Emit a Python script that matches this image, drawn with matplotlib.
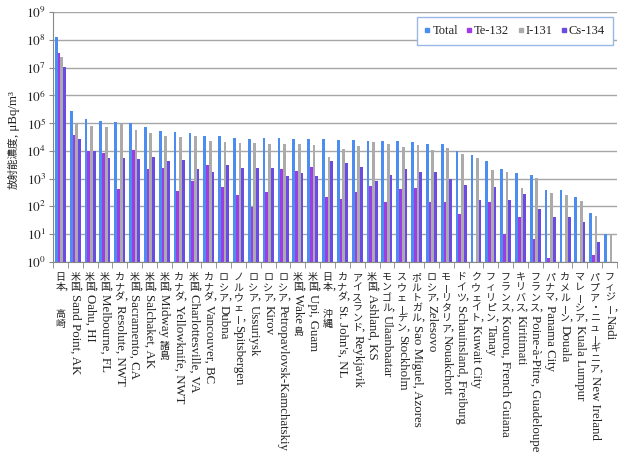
import matplotlib
matplotlib.use("Agg")
import matplotlib.pyplot as plt
import numpy as np
from matplotlib.transforms import IdentityTransform
from matplotlib.lines import Line2D
from matplotlib.ticker import NullLocator

plt.rcParams['mathtext.fontset'] = 'stix'

# ---------------- data ----------------
labels = ["日本，高崎", "米国，Sand Point, AK", "米国，Oahu, HI", "米国，Melbourne, FL",
          "カナダ，Resolute, NWT", "米国，Sacramento, CA", "米国，Salchaket, AK",
          "米国，Midway 諸島", "カナダ，Yellowknife, NWT", "米国，Charlottesville, VA",
          "カナダ，Vancouver, BC", "ロシア，Dubna", "ノルウェー，Spitsbergen",
          "ロシア，Ussuriysk", "ロシア，Kirov", "ロシア，Petropavlovsk-Kamchatskiy",
          "米国，Wake 島", "米国，Upi, Guam", "日本，沖縄", "カナダ，St. John's, NL",
          "アイスランド，Reykjavik", "米国，Ashland, KS", "モンゴル，Ulaanbaatar",
          "スウェーデン，Stockholm", "ポルトガル，Sao Miguel, Azores", "ロシア，Zelesovo",
          "モーリタリア，Nouakchott", "ドイツ，Schauinsland, Freiburg",
          "クウェイト，Kuwait City", "フィリピン，Tanay", "フランス，Kourou, French Guiana",
          "キリバス，Kiritimati", "フランス，Poine-à-Pitre, Guadeloupe", "パナマ，Panama City",
          "カメルーン，Douala", "マレーシア，Kuala Lumpur", "パプア・ニューギニア，New Ireland",
          "フィジー，Nadi"]

nan = np.nan
total = [1.3e8, 2.7e5, 1.4e5, 1.2e5, 1.1e5, 9.8e4, 7.4e4, 5.2e4, 4.8e4, 4.5e4,
         3.4e4, 3.4e4, 3.0e4, 2.7e4, 2.8e4, 2.8e4, 2.6e4, 2.6e4, 2.6e4, 2.4e4,
         2.4e4, 2.3e4, 2.2e4, 2.2e4, 2.1e4, 1.8e4, 1.7e4, 9.6e3, 6.9e3, 4.3e3,
         2.2e3, 1.6e3, 1.35e3, 3.9e2, 3.9e2, 2.1e2, 60, 10]
te132 = [3.4e7, 3.7e4, 1.0e4, 8.1e3, 4.1e2, 1.07e4, 2.2e3, 2.4e3, 3.7e2, 8.5e2,
         3.0e3, 4.9e2, 2.5e2, 98, 3.3e2, 2.2e3, 1.9e3, 2.6e3, 2.1e2, 1.9e2,
         3.2e2, 5.5e2, 1.4e2, 4.1e2, 4.7e2, 1.4e2, 1.4e2, 52, nan, 1.4e2,
         10, 40, 6.7, 1.4, nan, nan, 1.8, nan]
i131 = [2.5e7, 9.3e4, 7.9e4, 7.4e4, 9.1e4, 5.6e4, 4.5e4, 3.4e4, 3.2e4, 3.4e4,
        2.3e4, 2.1e4, 1.9e4, 1.9e4, 1.7e4, 1.8e4, 1.8e4, 1.6e4, 5.9e3, 1.2e4,
        1.5e4, 2.1e4, 1.7e4, 1.4e4, 1.6e4, 1.07e4, 1.3e4, 7.8e3, 5.4e3, 2.0e3,
        1.8e3, 4.5e2, 1.1e3, 3.0e2, 2.6e2, 1.6e2, 44, 10]
cs134 = [1.07e7, 2.6e4, 1.0e4, 5.4e3, 5.5e3, 5.0e3, 5.9e3, 4.4e3, 4.7e3, 2.3e3,
         1.8e3, 3.2e3, 2.5e3, 2.5e3, 2.5e3, 1.2e3, 1.6e3, 1.3e3, 4.2e3, 3.6e3,
         2.6e3, 8.5e2, 1.4e3, 2.2e3, 1.7e3, 1.7e3, 9.5e2, 6.0e2, 1.7e2, 5.1e2,
         1.7e2, 2.7e2, 81, 43, 43, 28, 5.1, nan]
series_names = ["Total", "Te-132", "I-131", "Cs-134"]
ytick_exponents = list(range(10))

# ---------------- styles ----------------
colors = ["#4C8DF0", "#A03CE6", "#ABABAB", "#6A4CE4"]
LAT = "Liberation Serif"
CJK = "Noto Sans CJK JP"
TXT = "#222222"

W, H = 619, 463
fig = plt.figure(figsize=(W / 100, H / 100), dpi=100)
ax = fig.add_axes([53 / W, (H - 262) / H, 564 / W, 250 / H])

n = len(labels)
x = np.arange(n)
bw = 0.185
ax.set_yscale("log")
for k, (vals, col, name) in enumerate(zip([total, te132, i131, cs134], colors, series_names)):
    ax.bar(x + (k - 1.5) * bw, np.array(vals, dtype=float), width=bw, color=col,
           label=name, linewidth=0, zorder=3)

ax.set_ylim(1, 1e9)
ax.set_xlim(-0.5, n - 0.5)
ax.set_yticks([10.0 ** e for e in ytick_exponents])
ax.set_yticklabels([rf"$10^{{{e}}}$" for e in ytick_exponents])
ax.yaxis.set_minor_locator(NullLocator())
ax.tick_params(axis="y", which="major", length=3, color="#888888", labelsize=9.5,
               labelcolor=TXT, pad=2)
ax.set_xticks([])
ax.set_xticks(np.arange(n + 1) - 0.5, minor=True)
ax.tick_params(axis="x", which="minor", length=4, color="#888888")
ax.grid(True, axis="y", which="major", color="#A6A6A6", lw=1, zorder=0)
ax.set_axisbelow(True)
for s in ["top", "right"]:
    ax.spines[s].set_visible(False)
for s in ["left", "bottom"]:
    ax.spines[s].set_color("#888888")

handles = [Line2D([], [], marker="s", ls="", color=c, markersize=3.5) for c in colors]
leg = ax.legend(handles, series_names, ncol=4, loc="upper right",
                bbox_to_anchor=(0.993, 0.981), frameon=True, fancybox=False,
                edgecolor="#9BB7E6", framealpha=1,
                prop={"family": LAT, "size": 9}, handlelength=0.4,
                handletextpad=0.2, columnspacing=0.7, borderpad=0.65,
                borderaxespad=0)
for t in leg.get_texts():
    t.set_color(TXT)

fig.canvas.draw()
renderer = fig.canvas.get_renderer()
ID = IdentityTransform()

lat_size = 9.3
cjk_size = 7.2
pitch = 10.2


def is_cjk(ch):
    return ord(ch) >= 0x3000


def split_runs(s):
    runs = []
    for ch in s:
        kind = is_cjk(ch)
        if runs and runs[-1][0] == kind:
            runs[-1][1] += ch
        else:
            runs.append([kind, ch])
    return runs


y_top = H - 272.0
for i, lab in enumerate(labels):
    xd = ax.transData.transform((i, 1))[0]
    y = y_top
    runs = split_runs(lab)
    for r, (kind, txt) in enumerate(runs):
        if kind:
            for idx, ch in enumerate(txt):
                if ch == "，":
                    nxt_latin = (idx == len(txt) - 1) and (r + 1 < len(runs))
                    fig.text(xd + 6.0, y + 3.5, ",", transform=ID, family=LAT,
                             size=lat_size, ha="center", va="baseline", color=TXT)
                    y -= 2 if nxt_latin else 16
                    continue
                rot = 90 if ch == "ー" else 0
                fig.text(xd, y - pitch / 2, ch, transform=ID, family=CJK,
                         size=cjk_size, ha="center", va="center", rotation=rot,
                         color=TXT)
                y -= pitch
        else:
            t = fig.text(xd, y, txt, transform=ID, family=LAT, size=lat_size,
                         ha="center", va="top", rotation=-90, color=TXT)
            bb = t.get_window_extent(renderer)
            y -= bb.height

# y-axis label: CJK part + Latin part, reading bottom to top
yl_x = 14
parts = [("放射能濃度", CJK, 7.6), (", μBq/m³", LAT, 9.3)]
texts = []
for s, fam, sz in parts:
    t = fig.text(yl_x, 0, s, transform=ID, family=fam, size=sz, rotation=90,
                 ha="center", va="bottom", color=TXT)
    texts.append(t)
lens = [t.get_window_extent(renderer).height for t in texts]
ystart = (H - 140) - sum(lens) / 2
for t, L in zip(texts, lens):
    t.set_position((yl_x, ystart))
    ystart += L

fig.savefig("out.png", dpi=100)
